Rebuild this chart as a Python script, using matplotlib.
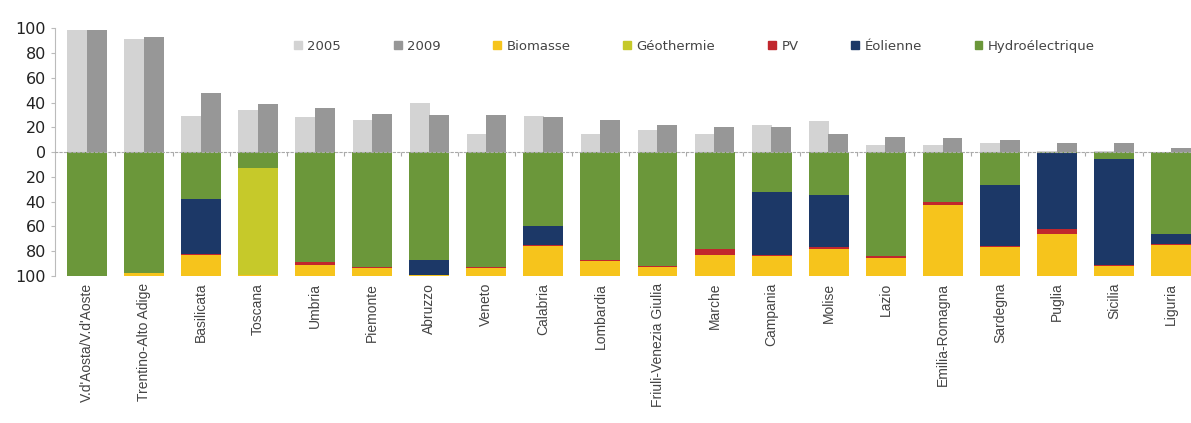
import matplotlib.pyplot as plt
import numpy as np
from matplotlib.ticker import FuncFormatter
from matplotlib.patches import Patch

plt.rcParams['font.family'] = ['Liberation Sans', 'DejaVu Sans']

regions = ["V.d'Aosta/V.d'Aoste", "Trentino-Alto Adige", "Basilicata", "Toscana",
           "Umbria", "Piemonte", "Abruzzo", "Veneto", "Calabria", "Lombardia",
           "Friuli-Venezia Giulia", "Marche", "Campania", "Molise", "Lazio",
           "Emilia-Romagna", "Sardegna", "Puglia", "Sicilia", "Liguria"]

# part des renouvelables (haut)
v2005 = [99, 91, 29, 34, 28, 26, 40, 15, 29, 15, 18, 15, 22, 25, 6, 6, 7, 1, 1, 0]
v2009 = [99, 93, 48, 39, 36, 31, 30, 30, 28, 26, 22, 20, 20, 15, 12, 11, 10, 7, 7, 3]

# composition 2009 (bas), de 0 vers le bas
hydro = [100, 98, 38, 13, 89, 93, 87, 93, 60, 87, 92, 78, 32, 35, 84, 40, 27, 1, 6, 66]
eolien = [0, 0, 44, 0, 0, 0, 12, 0, 15, 0, 0, 0, 51, 42, 0, 0, 49, 61, 85, 8]
pv = [0, 0, 1, 0, 2, 1, 0, 1, 1, 1, 1, 5, 1, 1, 2, 3, 1, 4, 1, 1]
geo = [0, 0, 0, 86, 0, 0, 0, 0, 0, 0, 0, 0, 0, 0, 0, 0, 0, 0, 0, 0]
bio = [0, 2, 17, 1, 9, 6, 1, 6, 24, 12, 7, 17, 16, 22, 14, 57, 23, 34, 8, 25]

c2005 = '#d3d3d3'
c2009 = '#979797'
cols = {'Biomasse': '#f6c41c', 'Géothermie': '#c6c92a', 'PV': '#c1272d',
        'Éolienne': '#1c3867', 'Hydroélectrique': '#6b973a'}

fig = plt.figure(figsize=(11.91, 4.23), dpi=100)
ax = fig.add_axes([55 / 1191, 0.348, 1 - 55 / 1191, 0.585])

x = np.arange(len(regions))
ax.bar(x - 0.17, v2005, 0.35, color=c2005)
ax.bar(x + 0.17, v2009, 0.35, color=c2009)

stack = [('Hydroélectrique', hydro), ('Éolienne', eolien), ('PV', pv),
         ('Géothermie', geo), ('Biomasse', bio)]
cum = np.zeros(len(regions))
for name, vals in stack:
    vals = np.array(vals, dtype=float)
    ax.bar(x, -vals, 0.70, bottom=-cum, color=cols[name])
    cum += vals

ax.set_xlim(-0.56, 19.35)
ax.set_ylim(-100, 100)
ax.set_yticks(np.arange(-100, 101, 20))
ax.yaxis.set_major_formatter(FuncFormatter(lambda v, p: '%d' % abs(v)))
ax.tick_params(axis='y', labelsize=11.5, colors='#222222', length=3, color='#bbbbbb')
for t in ax.get_yticklabels():
    t.set_family('DejaVu Sans')

for s in ['top', 'right']:
    ax.spines[s].set_visible(False)
ax.spines['left'].set_color('#bbbbbb')
ax.spines['bottom'].set_position(('data', 0))
ax.spines['bottom'].set_color('#aaaaaa')
ax.spines['bottom'].set_linestyle((0, (2, 2)))
ax.set_xticks(x[:-1] + 0.5)
ax.set_xticklabels([])
ax.tick_params(axis='x', length=3, color='#aaaaaa', direction='out')

sec = ax.secondary_xaxis('bottom')
sec.spines['bottom'].set_visible(False)
sec.set_xticks(x)
sec.set_xticklabels(regions, rotation=90, fontsize=10, color='#444444')
sec.tick_params(length=0, pad=5)

handles = [Patch(color=c2005), Patch(color=c2009)] + \
          [Patch(color=cols[n]) for n in ['Biomasse', 'Géothermie', 'PV', 'Éolienne', 'Hydroélectrique']]
labels = ['2005', '2009', 'Biomasse', 'Géothermie', 'PV', 'Éolienne', 'Hydroélectrique']
ax.legend(handles, labels, ncol=7, loc='center left', bbox_to_anchor=(0.2, 0.928),
          frameon=False, prop={'family': 'DejaVu Sans', 'size': 9.5},
          handlelength=0.6, handleheight=0.6, handletextpad=0.4,
          columnspacing=4.0, labelcolor='#444444')

fig.savefig('out.png', dpi=100)
